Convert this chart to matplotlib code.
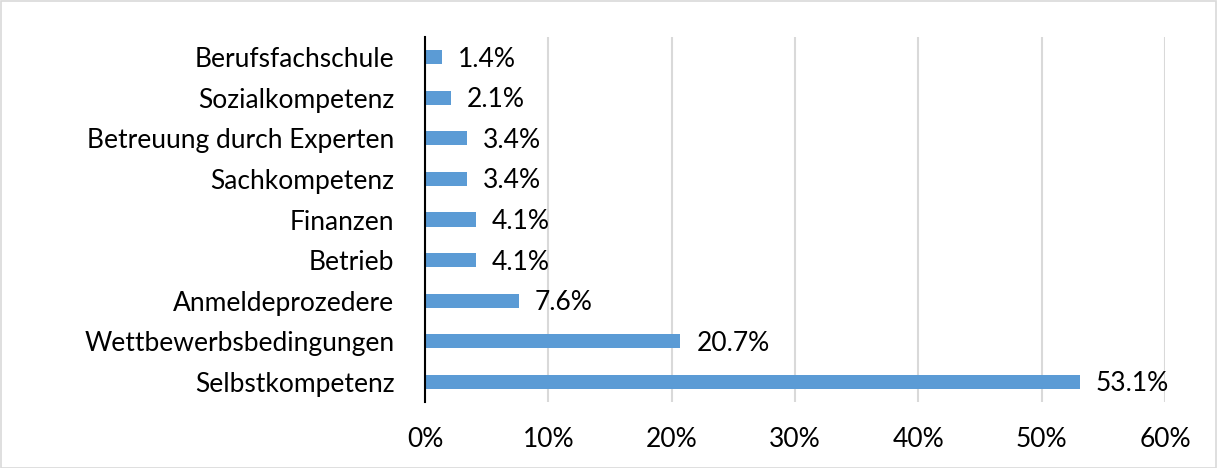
import matplotlib
matplotlib.use("Agg")
import matplotlib.pyplot as plt
from matplotlib.patches import Rectangle
from matplotlib.ticker import FuncFormatter

categories = ["Selbstkompetenz", "Wettbewerbsbedingungen", "Anmeldeprozedere", "Betrieb",
              "Finanzen", "Sachkompetenz", "Betreuung durch Experten", "Sozialkompetenz",
              "Berufsfachschule"]
values = [53.1, 20.7, 7.6, 4.1, 4.1, 3.4, 3.4, 2.1, 1.4]
xticks = [0, 10, 20, 30, 40, 50, 60]

plt.rcParams['font.family'] = ['Lato', 'DejaVu Sans']
FS = 19

fig = plt.figure(figsize=(12.17, 4.68), dpi=100)
ax = fig.add_axes([425/1217, 1-402/468, 740/1217, 365/468])

y = list(range(len(categories)))
ax.barh(y, values, height=0.35, color="#5B9BD5", zorder=3)
for yi, v in zip(y, values):
    ax.text(v + 1.3, yi - 0.05, f"{v:.1f}%", va="center", ha="left", fontsize=FS, color="#000000")

ax.set_xlim(0, 60)
ax.set_ylim(-0.5, len(categories) - 0.5)
ax.set_xticks(xticks)
ax.xaxis.set_major_formatter(FuncFormatter(lambda v, p: f"{int(v)}%"))
ax.set_yticks(y)
ax.set_yticklabels(categories)
ax.tick_params(axis="x", length=0, pad=18, labelsize=FS)
ax.tick_params(axis="y", length=0, pad=22, labelsize=FS)
ax.grid(axis="x", color="#D9D9D9", linewidth=1.5, zorder=0)
for s in ["top", "right", "bottom"]:
    ax.spines[s].set_visible(False)
ax.spines["left"].set_color("#000000")
ax.spines["left"].set_linewidth(1.5)
ax.spines["left"].set_zorder(4)

fig.patches.append(Rectangle((0.001, 0.001), 0.998, 0.997, transform=fig.transFigure,
                             fill=False, edgecolor="#D9D9D9", linewidth=1.2))

fig.savefig("out.png", dpi=100)
